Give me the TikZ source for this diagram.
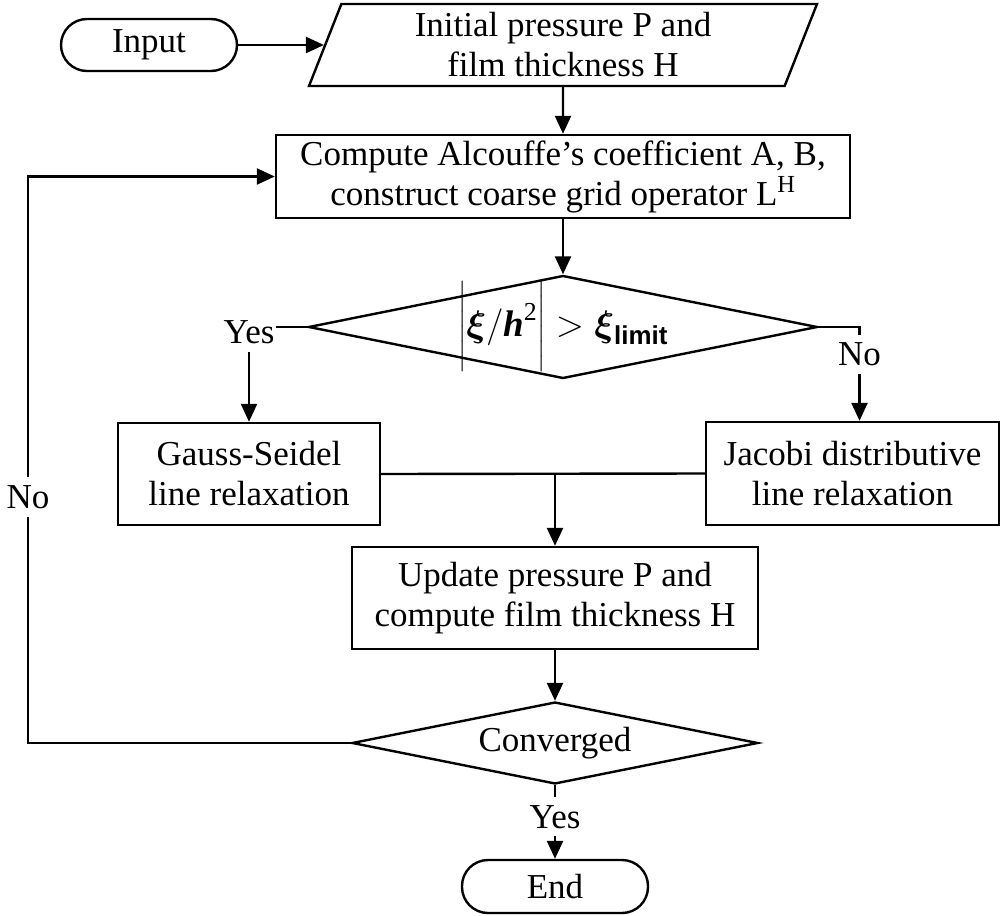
\RequirePackage{fix-cm}
\documentclass[tikz,border=0pt]{standalone}
\usepackage{amsmath}
\usepackage{fontspec}
\setmainfont{Liberation Serif}
\newfontfamily\limfont{Liberation Sans}
\usetikzlibrary{arrows.meta,shapes.geometric,calc}
\begin{document}
\begin{tikzpicture}[x=1pt,y=-1pt]
  \tikzstyle{txt}=[font=\fontsize{35}{40}\selectfont, align=center, text=black]
  \tikzstyle{box}=[draw=black, txt, fill=white, line width=2.4pt, inner sep=0pt]
  \tikzstyle{term}=[box, rounded corners=26pt, minimum width=176pt, minimum height=52pt]
  \tikzstyle{io}=[box, trapezium, trapezium left angle=63.4, trapezium right angle=116.6,
    trapezium stretches body, minimum width=508pt, minimum height=82pt]
  \tikzstyle{dec}=[box, diamond, aspect=4.95, minimum width=406pt, minimum height=82pt]
  \tikzstyle{dep}=[draw=black, line width=2.4pt, >={Triangle[length=18pt,width=16pt]}]
  \tikzstyle{lab}=[txt, fill=white, inner xsep=2pt, inner ysep=8pt]
  \def\vsp{145}

  \useasboundingbox [fill=white] (0,0) rectangle (1002,916);
  \coordinate (origin) at (0,0);
  \node [term] (in) at ($(origin)+(149,45)$) {Input};
  \node [io] (par) at ($(in)+(414,0)$) {Initial pressure P and\\film thickness H};
  \node [box, minimum width=574pt, minimum height=83pt] (comp) at ($(par)+(0,131.5)$)
    {Compute Alcouffe's coefficient A, B,\\construct coarse grid operator L\textsuperscript{H}};
  \node [dec, minimum width=509pt, minimum height=103pt] (d1) at ($(comp)+(0,150.5)$)
    {\fontsize{37}{42}\selectfont\smash{\raisebox{-9pt}{$\biggl|\boldsymbol{\xi}/\text{\bfseries\itshape h}^{\text{2}}\biggr|>\boldsymbol{\xi}_{\text{\limfont\bfseries limit}}$}}};
  \node [box, minimum width=262pt, minimum height=102pt] (gs) at ($(d1)+(-314,147)$)
    {Gauss-Seidel\\line relaxation};
  \node [box, minimum width=293pt, minimum height=103pt] (jac) at ($(d1)+(289.5,146.5)$)
    {Jacobi distributive\\line relaxation};
  \node [box, minimum width=406pt, minimum height=102pt] (upd) at ($(d1)+(-8,271)$)
    {Update pressure P and\\compute film thickness H};
  \node [dec] (conv) at ($(upd)+(0,\vsp)$) {Converged};
  \node [term, minimum width=186pt, minimum height=53pt] (end) at ($(conv)+(0,143.5)$) {End};
  \coordinate (back) at ($(origin)+(28,497)$);

  \draw [dep,->] (in) -- (par);
  \draw [dep,->] (par) -- (comp);
  \draw [dep,->] (comp) -- (d1);
  \draw [dep,->] (d1.west) -| node [lab,pos=0.53] {Yes} (gs.north);
  \draw [dep,->] (d1.east) -| node [lab,pos=0.647] {No} ([xshift=7pt]jac.north);
  \draw [dep] (gs.east) -- (jac.west);
  \draw [dep,->] (gs.east -| upd.north) -- (upd.north);
  \draw [dep,->] (upd) -- (conv);
  \draw [dep,->] (conv) -- node [lab,pos=0.43] {Yes} (end);
  \draw [dep,->] (conv.west) -| node [lab,pos=1] {No} (back) |- (comp.west);
\end{tikzpicture}
\end{document}
